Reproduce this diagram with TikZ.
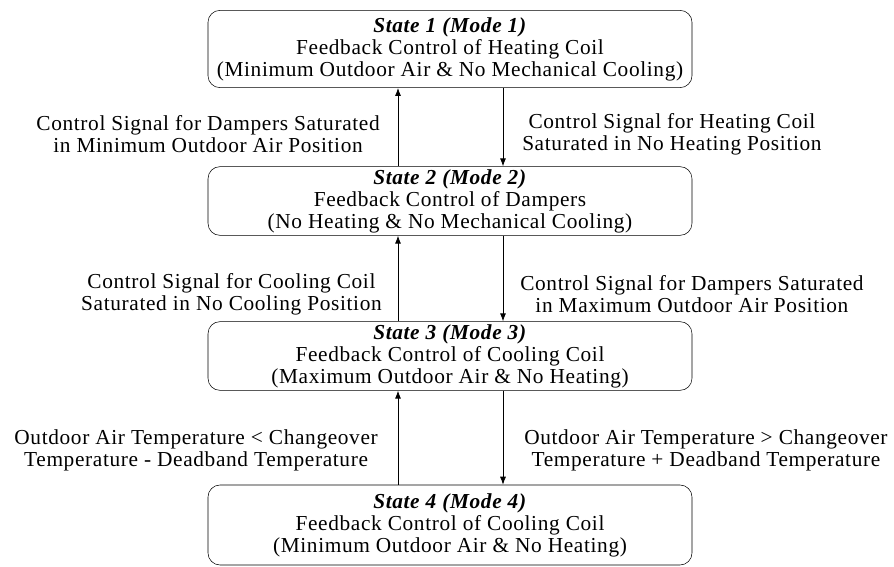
\documentclass[tikz,border=0pt]{standalone}
\usepackage{fontspec}
\setmainfont[LetterSpace=3]{Liberation Serif}
\usetikzlibrary{arrows.meta,positioning}

\tikzset{
  statebox/.style={draw,rounded corners=9pt,minimum width=363pt,align=center,
    font=\fontsize{16}{16.5}\selectfont,inner sep=2pt},
  sig/.style={align=center,font=\fontsize{16}{16.5}\selectfont,inner sep=0pt},
  tr/.style={-{Latex[length=6pt,width=4.5pt]},semithick}
}
\newcommand{\statehead}[1]{\textbf{\textit{State #1 (Mode #1)}}}

\begin{document}
\begin{tikzpicture}[x=0.75pt,y=-0.75pt]
 \useasboundingbox (0,0) rectangle (894,567);

 % the four states
 \node[statebox,minimum height=58pt] (s1) at (450,49)
 {\statehead{1}\\Feedback Control of Heating Coil\\(Minimum Outdoor Air \& No Mechanical Cooling)};
 \node[statebox,minimum height=51pt] (s2) at (450,201)
 {\statehead{2}\\Feedback Control of Dampers\\(No Heating \& No Mechanical Cooling)};
 \node[statebox,minimum height=49pt] (s3) at (450,356)
 {\statehead{3}\\Feedback Control of Cooling Coil\\(Maximum Outdoor Air \& No Heating)};
 \node[statebox,minimum height=60pt] (s4) at (450,525)
 {\statehead{4}\\Feedback Control of Cooling Coil\\(Minimum Outdoor Air \& No Heating)};

 \coordinate (upx) at (398,0);
 \coordinate (dnx) at (503,0);

 % transitions
 \draw[tr] (s2.north -| upx) -- (s1.south -| upx);
 \draw[tr] (s1.south -| dnx) -- (s2.north -| dnx);
 \draw[tr] (s3.north -| upx) -- (s2.south -| upx);
 \draw[tr] (s2.south -| dnx) -- (s3.north -| dnx);
 \draw[tr] (s4.north -| upx) -- (s3.south -| upx);
 \draw[tr] (s3.south -| dnx) -- (s4.north -| dnx);

 % conditions
 \node[sig,anchor=east] (c21) at (380,134)
 {Control Signal for Dampers Saturated\\in Minimum Outdoor Air Position};
 \node[sig,anchor=west] (c12) at (522,134)
 {Control Signal for Heating Coil\\Saturated in No Heating Position};
 \node[sig,anchor=east] (c32) at (382,294)
 {Control Signal for Cooling Coil\\Saturated in No Cooling Position};
 \node[sig,anchor=west] (c23) at (520,294)
 {Control Signal for Dampers Saturated\\in Maximum Outdoor Air Position};
 \node[sig,anchor=east] (c43) at (378,450)
 {Outdoor Air Temperature < Changeover\\Temperature - Deadband Temperature};
 \node[sig,anchor=west] (c34) at (524,450)
 {Outdoor Air Temperature > Changeover\\Temperature + Deadband Temperature};
\end{tikzpicture}
\end{document}
